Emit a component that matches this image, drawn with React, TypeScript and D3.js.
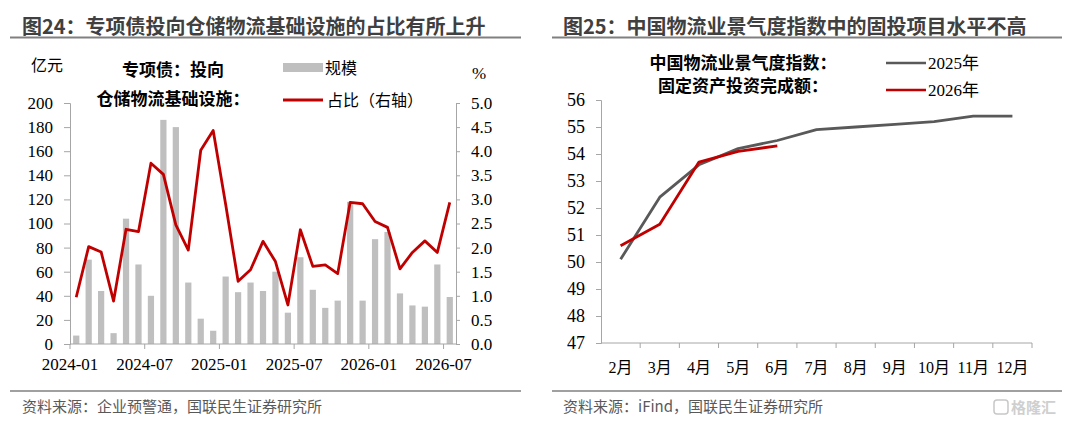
import { useEffect, useRef } from "react";
import * as d3 from "d3";

// ---- left panel data ----
const months = [
  "2024-01", "2024-02", "2024-03", "2024-04", "2024-05", "2024-06",
  "2024-07", "2024-08", "2024-09", "2024-10", "2024-11", "2024-12",
  "2025-01", "2025-02", "2025-03", "2025-04", "2025-05", "2025-06",
  "2025-07", "2025-08", "2025-09", "2025-10", "2025-11", "2025-12",
  "2026-01", "2026-02", "2026-03", "2026-04", "2026-05", "2026-06",
  "2026-07",
];
const scaleValues = [
  7, 70, 44, 9, 104, 66, 40, 186, 180, 51, 21, 11, 56, 43, 51, 44, 60, 26,
  72, 45, 30, 36, 118, 36, 87, 93, 42, 32, 31, 66, 39,
];
const ratioValues = [
  0.97, 2.02, 1.91, 0.89, 2.38, 2.33, 3.75, 3.52, 2.47, 1.95, 4.02, 4.43,
  2.9, 1.3, 1.54, 2.13, 1.71, 0.81, 2.37, 1.61, 1.64, 1.46, 2.94, 2.91,
  2.54, 2.42, 1.56, 1.9, 2.14, 1.9, 2.94,
];
const leftTickLabels = ["2024-01", "2024-07", "2025-01", "2025-07", "2026-01", "2026-07"];

// ---- right panel data ----
const monthNames = ["2月", "3月", "4月", "5月", "6月", "7月", "8月", "9月", "10月", "11月", "12月"];
const index2025 = [50.1, 52.4, 53.6, 54.2, 54.5, 54.9, 55.0, 55.1, 55.2, 55.4, 55.4];
const index2026 = [50.6, 51.4, 53.7, 54.1, 54.3];

const COLORS = {
  bar: "#bfbfbf",
  red: "#c00000",
  gray: "#595959",
  axis: "#a6a6a6",
  title: "#404040",
  text: "#000000",
  source: "#595959",
  rule: "#808080",
};

const W = 1080;
const H = 423;
const NUM = "'Liberation Serif', 'Noto Sans CJK SC', serif";
const CJK = "'Noto Sans CJK SC', sans-serif";

export default function App() {
  const svgRef = useRef<SVGSVGElement>(null);

  useEffect(() => {
    if (!svgRef.current) return;
    const svg = d3.select(svgRef.current);
    svg.selectAll("*").remove();

    // ============ HEADERS / FOOTERS ============
    const panels = [
      { x0: 10, x1: 521, title: "图24：专项债投向仓储物流基础设施的占比有所上升", tx: 22, src: "资料来源：企业预警通，国联民生证券研究所" },
      { x0: 552, x1: 1062, title: "图25：中国物流业景气度指数中的固投项目水平不高", tx: 563, src: "资料来源：iFind，国联民生证券研究所" },
    ];
    panels.forEach((p) => {
      svg.append("text")
        .attr("x", p.tx).attr("y", 34)
        .attr("font-family", CJK).attr("font-size", 20).attr("font-weight", 700)
        .attr("fill", COLORS.title)
        .text(p.title);
      svg.append("line")
        .attr("x1", p.x0).attr("x2", p.x1).attr("y1", 37.5).attr("y2", 37.5)
        .attr("stroke", COLORS.rule).attr("stroke-width", 2);
      svg.append("line")
        .attr("x1", p.x0).attr("x2", p.x1).attr("y1", 391).attr("y2", 391)
        .attr("stroke", COLORS.rule).attr("stroke-width", 1.5);
      svg.append("text")
        .attr("x", p.tx).attr("y", 412)
        .attr("font-family", CJK).attr("font-size", 15)
        .attr("fill", COLORS.source)
        .text(p.src);
    });

    // watermark
    svg.append("rect")
      .attr("x", 994).attr("y", 400).attr("width", 14).attr("height", 14).attr("rx", 3)
      .attr("fill", "none").attr("stroke", "#c8c8c8").attr("stroke-width", 1.5);
    svg.append("text")
      .attr("x", 1011).attr("y", 413)
      .attr("font-family", CJK).attr("font-size", 15).attr("font-weight", 700)
      .attr("fill", "#cfcfcf")
      .text("格隆汇");

    // ============ LEFT CHART ============
    const L = { left: 70, right: 456, top: 103, bottom: 344 };
    const x = d3.scaleBand().domain(months).range([L.left, L.right]).paddingInner(0.5).paddingOuter(0.25);
    const yL = d3.scaleLinear().domain([0, 200]).range([L.bottom, L.top]);
    const yR = d3.scaleLinear().domain([0, 5]).range([L.bottom, L.top]);
    const step = (L.right - L.left) / months.length;

    const left = svg.append("g").attr("class", "left-chart");

    left.selectAll("rect.bar")
      .data(scaleValues)
      .join("rect")
      .attr("class", "bar")
      .attr("x", (_, i) => x(months[i]) ?? 0)
      .attr("width", x.bandwidth())
      .attr("y", (d) => yL(d))
      .attr("height", (d) => L.bottom - yL(d))
      .attr("fill", COLORS.bar);

    const ratioLine = d3.line<number>()
      .x((_, i) => (x(months[i]) ?? 0) + x.bandwidth() / 2)
      .y((d) => yR(d));
    left.append("path")
      .datum(ratioValues)
      .attr("d", ratioLine)
      .attr("fill", "none")
      .attr("stroke", COLORS.red)
      .attr("stroke-width", 2.8)
      .attr("stroke-linejoin", "round");

    // axes
    left.append("g")
      .attr("transform", `translate(${L.left},0)`)
      .call(d3.axisLeft(yL).tickValues(d3.range(0, 201, 20)).tickSize(6).tickPadding(11))
      .call((g) => g.selectAll("path,line").attr("stroke", COLORS.axis))
      .call((g) => g.selectAll("text").attr("font-family", NUM).attr("font-size", 17).attr("fill", COLORS.text));

    left.append("g")
      .attr("transform", `translate(${L.right},0)`)
      .call(d3.axisRight(yR).tickValues(d3.range(0, 5.01, 0.5)).tickFormat(d3.format(".1f")).tickSize(4).tickPadding(11))
      .call((g) => g.selectAll("path,line").attr("stroke", COLORS.axis))
      .call((g) => g.selectAll("text").attr("font-family", NUM).attr("font-size", 17).attr("fill", COLORS.text));

    const xAxis = left.append("g").attr("transform", `translate(0,${L.bottom})`);
    xAxis.append("line")
      .attr("x1", L.left).attr("x2", L.right)
      .attr("stroke", COLORS.axis);
    leftTickLabels.forEach((lab) => {
      const bx = (x(lab) ?? 0) - step * 0.25;
      xAxis.append("line")
        .attr("x1", bx).attr("x2", bx).attr("y1", 0).attr("y2", 5)
        .attr("stroke", COLORS.axis);
      xAxis.append("text")
        .attr("x", bx).attr("y", 26)
        .attr("text-anchor", "middle")
        .attr("font-family", NUM).attr("font-size", 17).attr("fill", COLORS.text)
        .text(lab);
    });

    // units
    left.append("text").attr("x", 31).attr("y", 71)
      .attr("font-family", CJK).attr("font-size", 16).attr("fill", COLORS.text).text("亿元");
    left.append("text").attr("x", 472).attr("y", 79)
      .attr("font-family", NUM).attr("font-size", 17).attr("fill", COLORS.text).text("%");

    // legend
    left.append("text").attr("x", 173).attr("y", 76).attr("text-anchor", "middle")
      .attr("font-family", CJK).attr("font-size", 17).attr("font-weight", 700).attr("fill", COLORS.text)
      .text("专项债：投向");
    left.append("text").attr("x", 173).attr("y", 105).attr("text-anchor", "middle")
      .attr("font-family", CJK).attr("font-size", 17).attr("font-weight", 700).attr("fill", COLORS.text)
      .text("仓储物流基础设施：");
    left.append("rect").attr("x", 283).attr("y", 63).attr("width", 40).attr("height", 9).attr("fill", COLORS.bar);
    left.append("text").attr("x", 325).attr("y", 74)
      .attr("font-family", CJK).attr("font-size", 16).attr("fill", COLORS.text).text("规模");
    left.append("line").attr("x1", 283).attr("x2", 323).attr("y1", 100).attr("y2", 100)
      .attr("stroke", COLORS.red).attr("stroke-width", 2.8);
    left.append("text").attr("x", 327).attr("y", 106)
      .attr("font-family", CJK).attr("font-size", 16).attr("fill", COLORS.text).text("占比（右轴）");

    // ============ RIGHT CHART ============
    const R = { left: 601, right: 1032, top: 100, bottom: 343 };
    const x2 = d3.scalePoint().domain(monthNames).range([R.left, R.right]).padding(0.5);
    const y2 = d3.scaleLinear().domain([47, 56]).range([R.bottom, R.top]);
    const step2 = (R.right - R.left) / monthNames.length;

    const right = svg.append("g").attr("class", "right-chart");

    right.append("g")
      .attr("transform", `translate(${R.left},0)`)
      .call(d3.axisLeft(y2).tickValues(d3.range(47, 57, 1)).tickSize(5).tickPadding(11))
      .call((g) => g.selectAll("path,line").attr("stroke", COLORS.axis))
      .call((g) => g.selectAll("text").attr("font-family", NUM).attr("font-size", 18).attr("fill", COLORS.text));

    const xAxis2 = right.append("g").attr("transform", `translate(0,${R.bottom})`);
    xAxis2.append("line").attr("x1", R.left).attr("x2", R.right).attr("stroke", COLORS.axis);
    monthNames.forEach((m, i) => {
      const cx = x2(m) ?? 0;
      const bx = cx - step2 / 2;
      if (i > 0) {
        xAxis2.append("line").attr("x1", bx).attr("x2", bx).attr("y1", 0).attr("y2", 5)
          .attr("stroke", COLORS.axis);
      }
      xAxis2.append("text")
        .attr("x", cx).attr("y", 30).attr("text-anchor", "middle")
        .attr("font-family", NUM).attr("font-size", 16).attr("fill", COLORS.text)
        .text(m);
    });
    xAxis2.append("line").attr("x1", R.right).attr("x2", R.right).attr("y1", 0).attr("y2", 5)
      .attr("stroke", COLORS.axis);

    const idxLine = d3.line<number>()
      .x((_, i) => x2(monthNames[i]) ?? 0)
      .y((d) => y2(d));
    right.append("path").datum(index2025).attr("d", idxLine)
      .attr("fill", "none").attr("stroke", COLORS.gray).attr("stroke-width", 2.8).attr("stroke-linejoin", "round");
    right.append("path").datum(index2026).attr("d", idxLine)
      .attr("fill", "none").attr("stroke", COLORS.red).attr("stroke-width", 2.8).attr("stroke-linejoin", "round");

    // legend
    right.append("text").attr("x", 743).attr("y", 69).attr("text-anchor", "middle")
      .attr("font-family", CJK).attr("font-size", 17).attr("font-weight", 700).attr("fill", COLORS.text)
      .text("中国物流业景气度指数：");
    right.append("text").attr("x", 743).attr("y", 92).attr("text-anchor", "middle")
      .attr("font-family", CJK).attr("font-size", 17).attr("font-weight", 700).attr("fill", COLORS.text)
      .text("固定资产投资完成额：");
    right.append("line").attr("x1", 886).attr("x2", 926).attr("y1", 63).attr("y2", 63)
      .attr("stroke", COLORS.gray).attr("stroke-width", 2.5);
    right.append("text").attr("x", 928).attr("y", 69)
      .attr("font-family", NUM).attr("font-size", 17).attr("fill", COLORS.text).text("2025年");
    right.append("line").attr("x1", 886).attr("x2", 926).attr("y1", 90).attr("y2", 90)
      .attr("stroke", COLORS.red).attr("stroke-width", 2.5);
    right.append("text").attr("x", 928).attr("y", 96)
      .attr("font-family", NUM).attr("font-size", 17).attr("fill", COLORS.text).text("2026年");
  }, []);

  return (
    <div style={{ position: "fixed", left: 0, top: 0, width: W, height: H, background: "#fff" }}>
      <svg ref={svgRef} width={W} height={H} style={{ display: "block" }} />
    </div>
  );
}
